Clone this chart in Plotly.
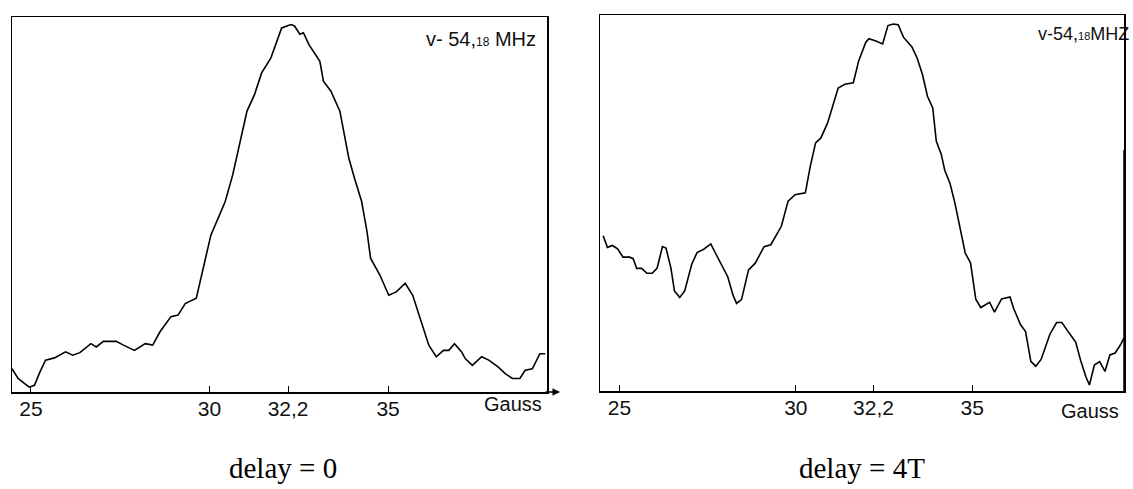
import plotly.graph_objects as go

# ---------------- data ----------------
# Field in Gauss, signal in arbitrary units (0 = baseline axis, 100 = top of frame)
field_left = [24.47, 24.64, 24.95, 25.10, 25.25, 25.41, 25.66, 25.97, 26.17, 26.37,
              26.68, 26.83, 27.03, 27.39, 27.59, 27.90, 28.20, 28.41, 28.61, 28.92,
              29.12, 29.32, 29.63, 29.83, 30.04, 30.24, 30.44, 30.65, 30.85, 31.05,
              31.26, 31.46, 31.72, 31.92, 32.02, 32.28, 32.38, 32.53, 32.63, 32.78,
              32.94, 33.09, 33.19, 33.40, 33.65, 33.75, 33.90, 34.06, 34.26, 34.41,
              34.51, 34.77, 35.02, 35.23, 35.48, 35.69, 35.94, 36.14, 36.35, 36.55,
              36.70, 36.86, 37.06, 37.16, 37.36, 37.62, 37.82, 38.08, 38.28, 38.48,
              38.69, 38.84, 39.04, 39.25, 39.40]
signal_left = [6.2, 3.6, 1.3, 1.8, 5.3, 8.5, 9.1, 10.7, 9.8, 10.5,
               12.9, 12.0, 13.5, 13.5, 12.5, 11.1, 12.9, 12.5, 16.0, 20.1,
               20.5, 23.6, 25.0, 33.0, 41.9, 46.3, 50.8, 57.9, 66.8, 74.9,
               79.3, 85.1, 89.1, 94.5, 97.1, 98.0, 97.6, 95.4, 95.8, 92.7,
               90.5, 88.2, 82.9, 80.2, 74.9, 69.5, 62.4, 57.0, 50.8, 42.8,
               35.7, 31.2, 25.8, 26.7, 29.0, 25.8, 18.7, 12.5, 9.4, 11.1,
               11.1, 12.9, 10.7, 8.9, 7.1, 9.4, 8.5, 6.7, 4.9, 3.6,
               3.6, 5.8, 6.2, 10.2, 10.2]

field_right = [24.54, 24.66, 24.80, 24.95, 25.10, 25.29, 25.39, 25.49, 25.63, 25.78,
               25.93, 26.07, 26.22, 26.32, 26.46, 26.56, 26.71, 26.85, 27.05, 27.20,
               27.39, 27.59, 27.73, 27.88, 28.07, 28.22, 28.32, 28.46, 28.66, 28.85,
               29.10, 29.29, 29.49, 29.59, 29.78, 29.98, 30.27, 30.41, 30.56, 30.71,
               30.90, 31.05, 31.20, 31.39, 31.63, 31.78, 31.98, 32.07, 32.27, 32.46,
               32.61, 32.76, 32.90, 33.05, 33.29, 33.44, 33.59, 33.73, 33.88, 33.98,
               34.12, 34.22, 34.37, 34.51, 34.66, 34.80, 34.95, 35.10, 35.24, 35.49,
               35.63, 35.83, 36.07, 36.17, 36.37, 36.51, 36.66, 36.80, 36.95, 37.20,
               37.39, 37.54, 37.73, 37.93, 38.07, 38.22, 38.32, 38.46, 38.61, 38.76,
               38.90, 39.05, 39.20, 39.30]
signal_right = [41.3, 38.2, 38.7, 37.8, 35.6, 35.6, 35.2, 32.6, 32.6, 31.3,
                31.3, 32.7, 38.4, 38.0, 32.7, 26.6, 24.9, 26.6, 33.7, 36.8,
                37.7, 39.1, 36.5, 33.9, 30.4, 25.5, 23.3, 24.3, 32.2, 34.0,
                38.4, 38.9, 42.0, 43.8, 50.5, 52.2, 52.7, 59.8, 66.0, 67.3,
                71.3, 75.8, 80.6, 81.6, 82.0, 87.8, 92.7, 93.7, 93.1, 92.3,
                97.2, 97.6, 97.4, 94.1, 91.5, 88.5, 84.1, 78.4, 75.3, 66.5,
                63.0, 58.7, 55.2, 49.9, 42.9, 36.7, 34.1, 24.4, 22.2, 23.6,
                21.0, 24.5, 25.0, 22.0, 17.6, 15.8, 7.9, 6.6, 8.4, 15.1,
                18.2, 18.2, 15.6, 13.0, 8.2, 3.8, 1.6, 6.9, 7.8, 5.2,
                9.6, 10.1, 12.3, 14.1]

tick_vals = [25, 30, 32.2, 35]
tick_text = ["25", "30", "32,2", "35"]
unit_label = "Gauss"
panel_titles = ["delay = 0", "delay = 4T"]
freq_labels = ["v- 54,<span style='font-size:12px'>18</span> MHz",
               "v-54,<span style='font-size:11px'>18</span>MHZ"]

# ---------------- figure ----------------
W, H = 1133, 489


def px(x):
    return x / W


def py(y):
    return 1 - y / H


fig = go.Figure()
fig.add_trace(go.Scatter(x=field_left, y=signal_left, mode="lines",
                         line=dict(color="black", width=1.6),
                         xaxis="x", yaxis="y", hoverinfo="skip"))
fig.add_trace(go.Scatter(x=field_right, y=signal_right, mode="lines",
                         line=dict(color="black", width=1.6),
                         xaxis="x2", yaxis="y2", hoverinfo="skip"))

frame = dict(showgrid=False, zeroline=False, showline=True, linecolor="black",
             linewidth=1.5, mirror=True)
tickstyle = dict(tickvals=tick_vals, ticktext=tick_text, ticks="inside", ticklen=6,
                 tickwidth=1, tickcolor="black", ticklabelstandoff=-3,
                 tickfont=dict(family="Liberation Sans", size=21, color="#111"))

fig.update_layout(
    width=W, height=H, autosize=False,
    margin=dict(l=0, r=0, t=0, b=0),
    paper_bgcolor="white", plot_bgcolor="white",
    showlegend=False,
    xaxis=dict(domain=[px(12), px(547)], range=[24.47, 39.45], anchor="y",
               **tickstyle, **frame),
    yaxis=dict(domain=[py(392), py(17)], range=[0, 100], anchor="x",
               showticklabels=False, ticks="", **frame),
    xaxis2=dict(domain=[px(600), px(1124)], range=[24.45, 39.3], anchor="y2",
                **tickstyle, **frame),
    yaxis2=dict(domain=[py(391), py(15)], range=[0, 100], anchor="x2",
                showticklabels=False, ticks="", **frame),
)

# right border of the right panel (only its lower part is visible in the scan)
fig.add_shape(type="line", xref="paper", yref="paper",
              x0=px(1124), x1=px(1124), y0=py(391), y1=py(150),
              line=dict(color="black", width=1.5))


def label(x, y, text, size, family="Liberation Sans", xanchor="center", color="#111"):
    return dict(x=px(x), y=py(y), xref="paper", yref="paper", text=text,
                xanchor=xanchor, yanchor="middle", showarrow=False,
                font=dict(family=family, size=size, color=color))


annotations = [
    # axis arrow on the left panel
    dict(x=px(560), y=py(392), xref="paper", yref="paper", ax=-16, ay=0,
         showarrow=True, arrowhead=2, arrowsize=1, arrowwidth=1.5,
         arrowcolor="black", text=""),
    # unit labels
    label(513, 404, unit_label, 20),
    label(1090, 411, unit_label, 20),
    # frequency labels
    label(538, 39, freq_labels[0], 20, xanchor="right"),
    label(1131, 34, freq_labels[1], 18, xanchor="right"),
    # panel captions
    label(283, 468, panel_titles[0], 29, family="Liberation Serif", color="black"),
    label(862, 468, panel_titles[1], 29, family="Liberation Serif", color="black"),
]
fig.update_layout(annotations=annotations)

fig.write_html(
    "out.html",
    config={"displayModeBar": False, "staticPlot": True},
    post_script="document.body.style.margin='0';document.body.style.overflow='hidden';"
                "document.documentElement.style.overflow='hidden';",
)
